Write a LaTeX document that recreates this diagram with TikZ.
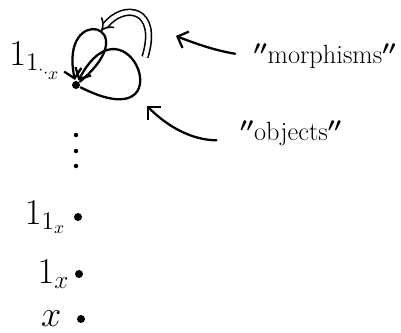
\documentclass[tikz,border=0pt]{standalone}
\usetikzlibrary{arrows.meta}

\begin{document}
\begin{tikzpicture}[
  x=0.02cm, y=-0.02cm,
  line width=1.3pt,
  hand/.style={-{Straight Barb[length=5pt,width=10pt]}, line cap=round},
  twocell/.style={double, double distance=2.4pt, line width=0.9pt, -{Implies}},
  obj/.style={circle, fill=black, inner sep=0pt, minimum size=0.16cm},
  vdot/.style={circle, fill=black, inner sep=0pt, minimum size=0.09cm},
  objlabel/.style={font=\fontsize{20}{22}\selectfont, inner sep=0.5pt},
  note/.style={font=\fontsize{15}{17}\selectfont\boldmath, inner sep=2pt},
]
\useasboundingbox (0,0) rectangle (401,333);

%% Objects (vertical column)
\node[obj, label={[objlabel, label distance=0.15cm]165:$1_{1_{\cdot_{\cdot_{x}}}}$}] (top) at (76,85) {};
\foreach \y [count=\i] in {135,151,166}
  \node[vdot] (vd\i) at (76,\y) {};
\node[obj, label={[objlabel, label distance=0.1cm]left:$1_{1_x}$}] (o3) at (78,217) {};
\node[obj, label={[objlabel, label distance=0.05cm]left:$1_x$}]    (o2) at (79,274) {};
\node[obj, label={[objlabel, label distance=0.25cm]left:$x$}]      (o1) at (81,319) {};

%% Loops on the top object
\draw[hand] (top) .. controls +(40:1.9cm) and +(102:1.7cm) .. (top);
\draw[hand] (top) .. controls +(-27:2.5cm) and +(62:2.2cm) .. (top);

%% Morphism between the loops
\coordinate (ts) at (145,57);
\coordinate (te) at (101,31);
\draw[twocell] (ts) .. controls (160,8) and (124,2) .. (te);

%% Notes
\node[note] (mtext) at (325,56) {$''$morphisms$''$};
\node[note] (otext) at (291,133) {$''$objects$''$};
\coordinate (mtip) at (176,36);
\coordinate (otip) at (147,106);
\draw[hand, shorten <=0.28cm] (mtext.west) to[bend left=6] (mtip);
\draw[hand, shorten <=0.38cm] (otext.base west) to[out=180, in=-45] (otip);

\end{tikzpicture}
\end{document}
